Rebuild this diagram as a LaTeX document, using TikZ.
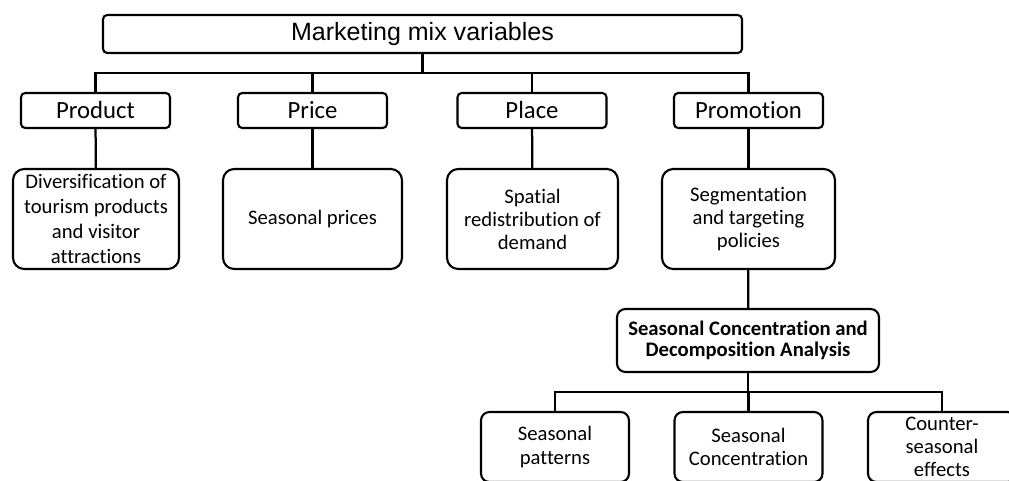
\documentclass[tikz,border=0pt]{standalone}
\usepackage{fontspec}
\setmainfont{Carlito}[Ligatures=NoCommon]
\newfontfamily\arialfont{Liberation Sans}
\usepackage{tikz}

\tikzset{
  box/.style={draw, line width=1.5pt, inner sep=0pt, align=center,
    font=\fontsize{14.7}{16.4}\selectfont},
  headbox/.style={box, rounded corners=3pt, font=\fontsize{17.6}{20}\selectfont},
  descbox/.style={box, rounded corners=8pt},
  link/.style={line width=1.6pt}
}

\begin{document}
\begin{tikzpicture}
	\clip (0,0) rectangle (25.225,12);
	\fill[white] (0,0) rectangle (25.225,12);

	% top level
	\node[box, rounded corners=3pt, minimum width=15.975cm, minimum height=0.95cm,
		font=\arialfont\fontsize{17.8}{20}\selectfont] (mix) at (10.5625,11.15) {Marketing mix variables};

	% the four P
	\node[headbox, minimum width=3.725cm, minimum height=0.875cm] (product) at (2.3875,9.2375) {Product};
	\node[headbox, minimum width=3.725cm, minimum height=0.875cm] (price) at (7.8125,9.2375) {Price};
	\node[headbox, minimum width=3.725cm, minimum height=0.875cm] (place) at (13.3,9.2375) {Place};
	\node[headbox, minimum width=3.725cm, minimum height=0.875cm] (promotion) at (18.7125,9.2375) {Promotion};

	\node[descbox, minimum width=4.15cm, minimum height=2.5cm,
		font=\fontsize{14.7}{17.8}\selectfont] (diversif) at (2.4,6.525)
		{Diversification of\\tourism products\\and visitor\\attractions};
	\node[descbox, minimum width=4.475cm, minimum height=2.5cm] (seaprice) at (7.8125,6.525) {Seasonal prices};
	\node[descbox, minimum width=4.275cm, minimum height=2.5cm] (spatial) at (13.3125,6.525)
		{Spatial\\redistribution of\\demand};
	\node[descbox, minimum width=4.325cm, minimum height=2.5cm] (segment) at (18.7125,6.525)
		{Segmentation\\and targeting\\policies};

	% analysis
	\node[descbox, rounded corners=6pt, minimum width=6.55cm, minimum height=1.575cm,
		font=\bfseries\fontsize{14.7}{14.7}\selectfont] (analysis) at (18.7,3.4875)
		{Seasonal Concentration and\\Decomposition Analysis};

	\node[descbox, rounded corners=6pt, minimum width=3.7cm, minimum height=1.75cm] (patterns) at (13.875,0.825)
		{Seasonal\\patterns};
	\node[descbox, rounded corners=6pt, minimum width=3.7cm, minimum height=1.75cm] (concentr) at (18.7125,0.825)
		{Seasonal\\Concentration};
	\node[descbox, rounded corners=6pt, minimum width=3.7cm, minimum height=1.75cm] (counter) at (23.55,0.825)
		{Counter-\\seasonal\\effects};

	% connectors
	\coordinate (hub) at (10.5625,10.175);
	\coordinate (hubtwo) at (18.7,2.2);
	\foreach \n in {product,price,place,promotion}
		\draw[link] (mix.south) -- (hub) -| (\n.north);
	\draw[link] (product) -- (diversif);
	\draw[link] (price) -- (seaprice);
	\draw[link] (place) -- (spatial);
	\draw[link] (promotion) -- (segment);
	\draw[link] (segment) -- (analysis);
	\foreach \n in {patterns,concentr,counter}
		\draw[link] (analysis.south) -- (hubtwo) -| (\n.north);
\end{tikzpicture}
\end{document}
